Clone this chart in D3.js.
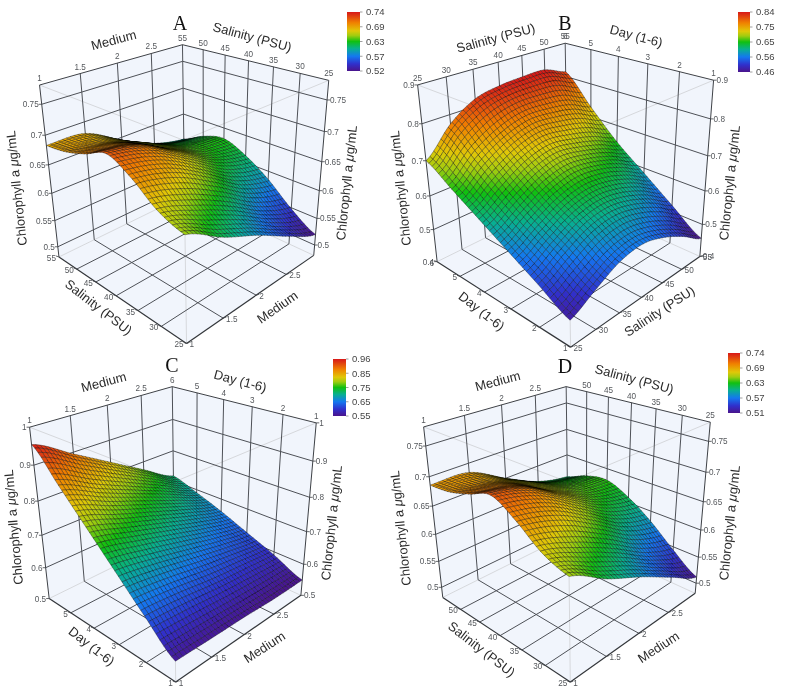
<!DOCTYPE html>
<html><head><meta charset="utf-8">
<script src="https://cdnjs.cloudflare.com/ajax/libs/d3/7.8.5/d3.min.js"></script>
<style>
html,body{margin:0;padding:0;background:#fff}
svg{display:block;filter:blur(0.35px)}
</style></head><body><div id="c"></div>
<script>
// ---------- data ----------
const mediumTicks=[1,1.5,2,2.5,3];
const salinityTicks=[25,30,35,40,45,50,55];
const dayTicks=[1,2,3,4,5,6];
// rows: x axis tick; columns: y axis tick
const surfaceA=[ // medium x salinity
 [.652,.667,.697,.716,.700,.688,.683],
 [.615,.642,.680,.700,.692,.680,.680],
 [.585,.610,.645,.665,.662,.655,.645],
 [.550,.572,.605,.630,.636,.628,.615],
 [.520,.548,.585,.613,.630,.620,.600]];
const surfaceB=[ // salinity x day
 [.474,.520,.565,.610,.655,.700],
 [.512,.560,.605,.655,.715,.775],
 [.546,.595,.640,.695,.755,.820],
 [.555,.605,.655,.712,.775,.835],
 [.535,.590,.645,.700,.772,.840],
 [.500,.560,.620,.680,.760,.840],
 [.457,.520,.585,.650,.730,.815]];
const surfaceC=[ // medium x day
 [.560,.635,.715,.795,.875,.955],
 [.557,.625,.695,.760,.825,.895],
 [.555,.610,.670,.725,.780,.835],
 [.550,.600,.645,.690,.735,.775],
 [.550,.590,.625,.660,.690,.717]];
const surfaceD=[ // medium x salinity
 [.650,.665,.695,.716,.702,.690,.686],
 [.612,.639,.677,.698,.692,.683,.684],
 [.581,.606,.641,.661,.661,.657,.650],
 [.546,.568,.601,.627,.636,.631,.620],
 [.512,.544,.581,.610,.628,.622,.606]];
const zTicksAD=[.5,.55,.6,.65,.7,.75];
const zTicksB=[.4,.5,.6,.7,.8,.9];
const zTicksC=[.5,.6,.7,.8,.9,1];
const legendA=[.52,.57,.63,.69,.74];
const legendB=[.46,.56,.65,.75,.84];
const legendC=[.55,.65,.75,.85,.96];
const legendD=[.51,.57,.63,.69,.74];
// ---------- layout ----------
const panels=[
{letter:'A',lp:[180,30],grid:surfaceA,xv:mediumTicks,yv:salinityTicks,zd:[.48,.78],zt:zTicksAD,leg:legendA,
 lg:[347,12,13,59],
 c:{BT:[183.3,45],LT:[39,85],RT:[328.3,80],LB:[59.3,257.3],RB:[314,256],FB:[186.7,343],BB:[184,195]},
 topX:[1,1.5,2,2.5],topY:[55,50,45,40,35,30,25],botY:[55,50,45,40,35,30,25],botX:[1,1.5,2,2.5],
 titles:[['Medium',114,41,-15],['Salinity (PSU)',252,38,15],['Salinity (PSU)',98,308,38],['Medium',278,308,-35]],
 chl:[[18,188,-96],[348,183,-84]]},
{letter:'B',lp:[565,30],grid:surfaceB,xv:salinityTicks,yv:dayTicks,zd:[.4,.9],zt:zTicksB,leg:legendB,
 lg:[738,12,12,60],
 c:{BT:[565.7,43.3],LT:[417.3,85],RT:[713.3,80],LB:[437.3,261.7],RB:[700,256.7],FB:[570.7,347],BB:[567.3,197]},
 topX:[25,30,35,40,45,50,55],topY:[6,5,4,3,2,1],botY:[6,5,4,3,2,1],botX:[25,30,35,40,45,50,55],
 titles:[['Salinity (PSU)',496,39,-15],['Day (1-6)',636,37,15],['Day (1-6)',481,312,38],['Salinity (PSU)',660,312,-33]],
 chl:[[402,188,-96],[731,183,-84]]},
{letter:'C',lp:[172,372],grid:surfaceC,xv:mediumTicks,yv:dayTicks,zd:[.5,1],zt:zTicksC,leg:legendC,
 lg:[333,359,13,57],
 c:{BT:[172.7,386.7],LT:[29.3,426.7],RT:[316,423.3],LB:[50,599],RB:[301.7,595],FB:[175,682],BB:[173.3,537]},
 topX:[1,1.5,2,2.5],topY:[6,5,4,3,2,1],botY:[5,4,3,2,1],botX:[1,1.5,2,2.5],
 titles:[['Medium',104,383,-15],['Day (1-6)',240,382,15],['Day (1-6)',91,647,38],['Medium',265,648,-33]],
 chl:[[15,527,-95],[333,523,-84]]},
{letter:'D',lp:[565,373],grid:surfaceD,xv:mediumTicks,yv:salinityTicks,zd:[.48,.78],zt:zTicksAD,leg:legendD,
 lg:[728,353,12,60],
 c:{BT:[566.7,386.7],LT:[423.3,426.7],RT:[710,422.3],LB:[443.3,597.7],RB:[695.7,593.3],FB:[570,682],BB:[567.3,535]},
 topX:[1,1.5,2,2.5],topY:[50,45,40,35,30,25],botY:[50,45,40,35,30,25],botX:[1,1.5,2,2.5],
 titles:[['Medium',498,382,-15],['Salinity (PSU)',634,380,15],['Salinity (PSU)',481,650,38],['Medium',659,648,-33]],
 chl:[[402,528,-96],[731,523,-84]]}
];
const N=40;
const ramp=[[0,'#4a148c'],[.12,'#3030cc'],[.25,'#1478f0'],[.38,'#08b090'],[.5,'#10c010'],[.6,'#a0cc10'],[.68,'#e0c808'],[.82,'#f08000'],[.93,'#e04010'],[1,'#d81818']];
const W=787,H=690;
const svg=d3.select('#c').append('svg').attr('width',W).attr('height',H).style('font-family','"Liberation Sans",Arial,sans-serif');
const defs=svg.append('defs');

function solve(A,b){
  const n=b.length,M=A.map((r,i)=>[...r,b[i]]);
  for(let i=0;i<n;i++){
    let p=i;for(let k=i+1;k<n;k++)if(Math.abs(M[k][i])>Math.abs(M[p][i]))p=k;
    [M[i],M[p]]=[M[p],M[i]];
    for(let k=i+1;k<n;k++){const f=M[k][i]/M[i][i];for(let j=i;j<=n;j++)M[k][j]-=f*M[i][j];}
  }
  const x=new Array(n).fill(0);
  for(let i=n-1;i>=0;i--){let s=M[i][n];for(let j=i+1;j<n;j++)s-=M[i][j]*x[j];x[i]=s/M[i][i];}
  return x;
}
function camera(c){
  const pts=[[c.BT,1,1,1],[c.LT,0,1,1],[c.RT,1,0,1],[c.LB,0,1,0],[c.RB,1,0,0],[c.FB,0,0,0],[c.BB,1,1,0]];
  const cx=d3.mean(pts,p=>p[0][0]),cy=d3.mean(pts,p=>p[0][1]),s=100;
  const A=[],b=[];
  for(const [q,X,Y,Z] of pts){
    const u=(q[0]-cx)/s,v=(q[1]-cy)/s;
    A.push([X,Y,Z,1,0,0,0,0,-u*X,-u*Y,-u*Z]);b.push(u);
    A.push([0,0,0,0,X,Y,Z,1,-v*X,-v*Y,-v*Z]);b.push(v);
  }
  const AtA=d3.range(11).map(i=>d3.range(11).map(j=>d3.sum(A,r=>r[i]*r[j])));
  const Atb=d3.range(11).map(i=>d3.sum(A,(r,k)=>r[i]*b[k]));
  const p=solve(AtA,Atb);
  return (X,Y,Z)=>{const w=p[8]*X+p[9]*Y+p[10]*Z+1;
    return [cx+s*(p[0]*X+p[1]*Y+p[2]*Z+p[3])/w,cy+s*(p[4]*X+p[5]*Y+p[6]*Z+p[7])/w];};
}
function cr(v,t){ // Catmull-Rom through read values, t in [0,n-1]
  const n=v.length-1,i=Math.min(Math.floor(t),n-1),f=t-i;
  const a=v[Math.max(i-1,0)],b=v[i],c=v[i+1],d=v[Math.min(i+2,n)];
  return .5*(2*b+(c-a)*f+(2*a-5*b+4*c-d)*f*f+(3*b-a-3*c+d)*f*f*f);
}
const line=d3.line();
panels.forEach((P,idx)=>{
  const g=svg.append('g');
  const xS=d3.scaleLinear().domain(d3.extent(P.xv)).range([0,1]);
  const yS=d3.scaleLinear().domain(d3.extent(P.yv)).range([0,1]);
  const zS=d3.scaleLinear().domain(P.zd).range([0,1]);
  const pr=camera(P.c);
  const poly=(pts)=>g.append('path').attr('d',line(pts)+'Z').attr('fill','#f1f5fc').attr('stroke','none');
  poly([pr(0,1,0),pr(1,1,0),pr(1,1,1),pr(0,1,1)]);
  poly([pr(1,1,0),pr(1,0,0),pr(1,0,1),pr(1,1,1)]);
  poly([pr(0,0,0),pr(1,0,0),pr(1,1,0),pr(0,1,0)]);
  const seg=(a,b,col,w)=>g.append('path').attr('d',line([a,b])).attr('stroke',col).attr('stroke-width',w).attr('fill','none');
  const gridC='#4e5157';
  const ltc='#d6d8dc';
  seg(pr(0,1,1),pr(0,0,1),ltc,1);seg(pr(1,0,1),pr(0,0,1),ltc,1);
  seg(pr(0,0,0),pr(0,0,1),ltc,1);
  seg(pr(0,1,0),pr(1,1,0),ltc,1);seg(pr(1,1,0),pr(1,0,0),ltc,1);
  P.xv.slice(1,-1).forEach(v=>{const a=xS(v);
    seg(pr(a,1,0),pr(a,1,1),gridC,1);seg(pr(a,0,0),pr(a,1,0),gridC,1);});
  P.yv.slice(1,-1).forEach(v=>{const b=yS(v);
    seg(pr(1,b,0),pr(1,b,1),gridC,1);seg(pr(0,b,0),pr(1,b,0),gridC,1);});
  P.zt.forEach(v=>{const c=zS(v);if(c<=0.001||c>=.999)return;
    seg(pr(0,1,c),pr(1,1,c),gridC,1);seg(pr(1,1,c),pr(1,0,c),gridC,1);});
  seg(pr(1,1,0),pr(1,1,1),gridC,1);
  // surface
  const col=d3.scaleLinear().domain(ramp.map(r=>P.leg[0]+r[0]*(P.leg[4]-P.leg[0]))).range(ramp.map(r=>r[1])).interpolate(d3.interpolateRgb).clamp(true);
  const nx=P.xv.length-1,ny=P.yv.length-1;
  const zAt=(i,j)=>{const s=i/N*nx,t=j/N*ny;
    const colv=P.grid.map(r=>cr(r,t));return cr(colv,s);};
  const Z=d3.range(N+1).map(i=>d3.range(N+1).map(j=>zAt(i,j)));
  const nodes=Z.map((r,i)=>r.map((z,j)=>pr(i/N,j/N,zS(z))));
  const cells=[];
  for(let i=N-1;i>=0;i--)for(let j=N-1;j>=0;j--)cells.push({i,j,k:i+j});
  cells.sort((a,b)=>b.k-a.k);
  g.append('g').selectAll('path').data(cells).join('path')
    .attr('d',d=>line([nodes[d.i][d.j],nodes[d.i+1][d.j],nodes[d.i+1][d.j+1],nodes[d.i][d.j+1]])+'Z')
    .attr('fill',d=>col((Z[d.i][d.j]+Z[d.i+1][d.j]+Z[d.i+1][d.j+1]+Z[d.i][d.j+1])/4))
    .attr('stroke','rgba(0,0,0,0.36)')
    .attr('stroke-width',.9).attr('stroke-linejoin','round');
  // outer edges
  const edge='#3e4146';
  [[pr(0,1,1),pr(1,1,1)],[pr(1,1,1),pr(1,0,1)],[pr(0,1,1),pr(0,1,0)],[pr(1,0,1),pr(1,0,0)]].forEach(e=>seg(e[0],e[1],edge,1));
  [[pr(0,1,0),pr(0,0,0)],[pr(0,0,0),pr(1,0,0)]].forEach(e=>seg(e[0],e[1],'#33363a',1.2));
  // tick labels
  const lab=(t,p,dx,dy,anc)=>g.append('text').text(t).attr('x',p[0]+dx).attr('y',p[1]+dy).attr('text-anchor',anc).attr('font-size',8.2).attr('fill','#55585c');
  P.topX.forEach(v=>lab(v,pr(xS(v),1,1),0,-4,'middle'));
  P.topY.forEach(v=>lab(v,pr(1,yS(v),1),0,-4,'middle'));
  P.zt.forEach(v=>{const l=pr(0,1,zS(v)),r=pr(1,0,zS(v));
    seg(l,[l[0]-3,l[1]],edge,.8);seg(r,[r[0]+3,r[1]],edge,.8);
    lab(v,l,-3,3,'end');lab(v,r,3,3,'start');});
  P.botY.forEach(v=>{const p=pr(0,yS(v),0);seg(p,[p[0]-3,p[1]-1],edge,.8);lab(v,p,-3,4,'end');});
  P.botX.forEach(v=>{const p=pr(xS(v),0,0);seg(p,[p[0]+3,p[1]-1],edge,.8);lab(v,p,3,4,'start');});
  // titles
  P.titles.forEach(t=>g.append('text').text(t[0]).attr('transform',`translate(${t[1]},${t[2]}) rotate(${t[3]})`)
    .attr('text-anchor','middle').attr('dominant-baseline','middle').attr('font-size',13).attr('fill','#2b2b2b'));
  P.chl.forEach(t=>{const e=g.append('text').attr('transform',`translate(${t[0]},${t[1]}) rotate(${t[2]})`)
    .attr('text-anchor','middle').attr('dominant-baseline','middle').attr('font-size',13).attr('fill','#2b2b2b');
    e.append('tspan').text('Chlorophyll a ');e.append('tspan').attr('font-style','italic').text('\u03bc');e.append('tspan').text('g/mL');});
  g.append('text').text(P.letter).attr('x',P.lp[0]).attr('y',P.lp[1]).attr('text-anchor','middle')
    .attr('font-family','"Liberation Serif",serif').attr('font-size',20).attr('fill','#111');
  // legend
  const id='lg'+idx,gr=defs.append('linearGradient').attr('id',id).attr('x1',0).attr('x2',0).attr('y1',1).attr('y2',0);
  ramp.forEach(r=>gr.append('stop').attr('offset',r[0]).attr('stop-color',r[1]));
  const [lx,ly,lw,lh]=P.lg;
  g.append('rect').attr('x',lx).attr('y',ly).attr('width',lw).attr('height',lh).attr('fill',`url(#${id})`);
  const lS=d3.scalePoint().domain(P.leg).range([ly+lh,ly]);
  P.leg.forEach(v=>{const y=lS(v);
    seg([lx+lw,y],[lx+lw+2.5,y],'#888',.8);
    g.append('text').text(v.toFixed(2)).attr('x',lx+lw+6).attr('y',y+3.3).attr('font-size',9.5).attr('fill','#444');});
});
</script></body></html>
